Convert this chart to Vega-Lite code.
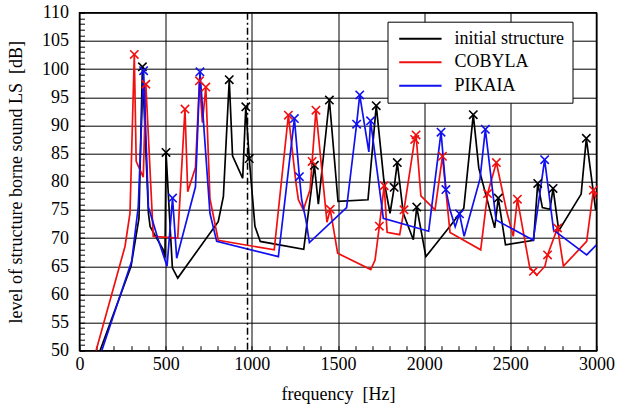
{
  "$schema": "https://vega.github.io/schema/vega-lite/v6.json",
  "width": 517,
  "height": 338,
  "autosize": {"type": "none"},
  "padding": {"left": 79.5, "top": 12.7, "right": 29.5, "bottom": 54.3},
  "background": "white",
  "config": {
    "font": "Liberation Serif",
    "view": {"stroke": "black", "strokeWidth": 1.5},
    "axis": {"labelFont": "Liberation Serif", "titleFont": "Liberation Serif", "labelColor": "black", "titleColor": "black", "titleFontWeight": "normal", "labelFontSize": 18, "titleFontSize": 18}
  },
  "datasets": {
    "lines": [
      {"s":"initial structure","f":119,"L":50},{"s":"initial structure","f":299,"L":65},{"s":"initial structure","f":345,"L":73.5},{"s":"initial structure","f":365,"L":100.4},{"s":"initial structure","f":400,"L":74.4},{"s":"initial structure","f":410,"L":72},{"s":"initial structure","f":486,"L":67.9},{"s":"initial structure","f":496,"L":66.5},{"s":"initial structure","f":502,"L":85.2},{"s":"initial structure","f":539,"L":64.7},{"s":"initial structure","f":570,"L":62.9},{"s":"initial structure","f":805,"L":72.9},{"s":"initial structure","f":835,"L":77.4},{"s":"initial structure","f":869,"L":98.1},{"s":"initial structure","f":888,"L":84.6},{"s":"initial structure","f":947,"L":80.6},{"s":"initial structure","f":965,"L":93.3},{"s":"initial structure","f":985,"L":84.1},{"s":"initial structure","f":1018,"L":72.1},{"s":"initial structure","f":1049,"L":69.4},{"s":"initial structure","f":1301,"L":68},{"s":"initial structure","f":1363,"L":82.9},{"s":"initial structure","f":1386,"L":76},{"s":"initial structure","f":1450,"L":94.5},{"s":"initial structure","f":1500,"L":76.5},{"s":"initial structure","f":1674,"L":76.8},{"s":"initial structure","f":1722,"L":93.5},{"s":"initial structure","f":1766,"L":80.3},{"s":"initial structure","f":1802,"L":74.4},{"s":"initial structure","f":1826,"L":79},{"s":"initial structure","f":1844,"L":83.4},{"s":"initial structure","f":1879,"L":74.4},{"s":"initial structure","f":1937,"L":69.7},{"s":"initial structure","f":1957,"L":75.5},{"s":"initial structure","f":2010,"L":66.7},{"s":"initial structure","f":2150,"L":72.1},{"s":"initial structure","f":2230,"L":75.3},{"s":"initial structure","f":2285,"L":91.9},{"s":"initial structure","f":2317,"L":82.4},{"s":"initial structure","f":2409,"L":71.8},{"s":"initial structure","f":2430,"L":77.1},{"s":"initial structure","f":2472,"L":68.8},{"s":"initial structure","f":2635,"L":69.6},{"s":"initial structure","f":2659,"L":79.7},{"s":"initial structure","f":2686,"L":75.4},{"s":"initial structure","f":2730,"L":75.1},{"s":"initial structure","f":2748,"L":78.8},{"s":"initial structure","f":2781,"L":71.3},{"s":"initial structure","f":2911,"L":77.8},{"s":"initial structure","f":2941,"L":87.7},{"s":"initial structure","f":2995,"L":75},
      {"s":"COBYLA","f":96,"L":50},{"s":"COBYLA","f":264,"L":68.5},{"s":"COBYLA","f":293,"L":74.4},{"s":"COBYLA","f":318,"L":102.6},{"s":"COBYLA","f":329,"L":83.6},{"s":"COBYLA","f":370,"L":80.8},{"s":"COBYLA","f":385,"L":97.3},{"s":"COBYLA","f":428,"L":70.3},{"s":"COBYLA","f":570,"L":70},{"s":"COBYLA","f":612,"L":92.9},{"s":"COBYLA","f":628,"L":78.2},{"s":"COBYLA","f":673,"L":82.5},{"s":"COBYLA","f":696,"L":97.9},{"s":"COBYLA","f":713,"L":90.5},{"s":"COBYLA","f":733,"L":96.8},{"s":"COBYLA","f":757,"L":77},{"s":"COBYLA","f":805,"L":69.6},{"s":"COBYLA","f":1130,"L":67.9},{"s":"COBYLA","f":1212,"L":91.8},{"s":"COBYLA","f":1256,"L":79.8},{"s":"COBYLA","f":1270,"L":76.8},{"s":"COBYLA","f":1299,"L":75},{"s":"COBYLA","f":1338,"L":78.6},{"s":"COBYLA","f":1350,"L":83.6},{"s":"COBYLA","f":1372,"L":92.7},{"s":"COBYLA","f":1436,"L":72.8},{"s":"COBYLA","f":1455,"L":75.1},{"s":"COBYLA","f":1498,"L":67.3},{"s":"COBYLA","f":1690,"L":64.4},{"s":"COBYLA","f":1715,"L":66.1},{"s":"COBYLA","f":1740,"L":72.1},{"s":"COBYLA","f":1768,"L":79.3},{"s":"COBYLA","f":1785,"L":71},{"s":"COBYLA","f":1858,"L":70.6},{"s":"COBYLA","f":1883,"L":75},{"s":"COBYLA","f":1945,"L":87.5},{"s":"COBYLA","f":1953,"L":88.3},{"s":"COBYLA","f":1981,"L":77.5},{"s":"COBYLA","f":2063,"L":75},{"s":"COBYLA","f":2106,"L":84.5},{"s":"COBYLA","f":2150,"L":71},{"s":"COBYLA","f":2328,"L":67.9},{"s":"COBYLA","f":2368,"L":77.9},{"s":"COBYLA","f":2419,"L":83.4},{"s":"COBYLA","f":2479,"L":74.7},{"s":"COBYLA","f":2517,"L":70.3},{"s":"COBYLA","f":2541,"L":76.9},{"s":"COBYLA","f":2614,"L":64.5},{"s":"COBYLA","f":2634,"L":64.1},{"s":"COBYLA","f":2653,"L":63.4},{"s":"COBYLA","f":2701,"L":65},{"s":"COBYLA","f":2716,"L":67},{"s":"COBYLA","f":2774,"L":71.8},{"s":"COBYLA","f":2808,"L":65},{"s":"COBYLA","f":2943,"L":69.4},{"s":"COBYLA","f":2982,"L":78.5},{"s":"COBYLA","f":3000,"L":77},
      {"s":"PIKAIA","f":129,"L":50},{"s":"PIKAIA","f":303,"L":65.9},{"s":"PIKAIA","f":341,"L":75.6},{"s":"PIKAIA","f":372,"L":99.7},{"s":"PIKAIA","f":400,"L":75.5},{"s":"PIKAIA","f":457,"L":69.7},{"s":"PIKAIA","f":508,"L":65},{"s":"PIKAIA","f":540,"L":77.1},{"s":"PIKAIA","f":564,"L":66.4},{"s":"PIKAIA","f":673,"L":79.1},{"s":"PIKAIA","f":699,"L":99.5},{"s":"PIKAIA","f":757,"L":74.4},{"s":"PIKAIA","f":796,"L":69.4},{"s":"PIKAIA","f":1154,"L":66.7},{"s":"PIKAIA","f":1247,"L":91.2},{"s":"PIKAIA","f":1276,"L":80.9},{"s":"PIKAIA","f":1289,"L":76.8},{"s":"PIKAIA","f":1314,"L":73.2},{"s":"PIKAIA","f":1334,"L":69.2},{"s":"PIKAIA","f":1550,"L":75.4},{"s":"PIKAIA","f":1608,"L":90.2},{"s":"PIKAIA","f":1626,"L":95.4},{"s":"PIKAIA","f":1679,"L":85.3},{"s":"PIKAIA","f":1689,"L":90.8},{"s":"PIKAIA","f":1763,"L":73.5},{"s":"PIKAIA","f":2026,"L":71.2},{"s":"PIKAIA","f":2098,"L":88.8},{"s":"PIKAIA","f":2126,"L":78.6},{"s":"PIKAIA","f":2150,"L":75},{"s":"PIKAIA","f":2180,"L":72},{"s":"PIKAIA","f":2205,"L":74.3},{"s":"PIKAIA","f":2232,"L":70.3},{"s":"PIKAIA","f":2324,"L":80.5},{"s":"PIKAIA","f":2355,"L":89.3},{"s":"PIKAIA","f":2417,"L":73.2},{"s":"PIKAIA","f":2633,"L":69.6},{"s":"PIKAIA","f":2699,"L":83.9},{"s":"PIKAIA","f":2751,"L":71.4},{"s":"PIKAIA","f":2943,"L":67},{"s":"PIKAIA","f":3000,"L":68.8}
    ],
    "markers": [
      {"s":"initial structure","f":365,"L":100.4},{"s":"initial structure","f":502,"L":85.2},{"s":"initial structure","f":869,"L":98.1},{"s":"initial structure","f":965,"L":93.3},{"s":"initial structure","f":985,"L":84.1},{"s":"initial structure","f":1363,"L":82.9},{"s":"initial structure","f":1450,"L":94.5},{"s":"initial structure","f":1722,"L":93.5},{"s":"initial structure","f":1826,"L":79},{"s":"initial structure","f":1844,"L":83.4},{"s":"initial structure","f":1957,"L":75.5},{"s":"initial structure","f":2285,"L":91.9},{"s":"initial structure","f":2430,"L":77.1},{"s":"initial structure","f":2659,"L":79.7},{"s":"initial structure","f":2748,"L":78.8},{"s":"initial structure","f":2941,"L":87.7},
      {"s":"COBYLA","f":318,"L":102.6},{"s":"COBYLA","f":385,"L":97.3},{"s":"COBYLA","f":612,"L":92.9},{"s":"COBYLA","f":696,"L":97.9},{"s":"COBYLA","f":733,"L":96.8},{"s":"COBYLA","f":1212,"L":91.8},{"s":"COBYLA","f":1350,"L":83.6},{"s":"COBYLA","f":1372,"L":92.7},{"s":"COBYLA","f":1455,"L":75.1},{"s":"COBYLA","f":1740,"L":72.1},{"s":"COBYLA","f":1768,"L":79.3},{"s":"COBYLA","f":1883,"L":75},{"s":"COBYLA","f":1945,"L":87.5},{"s":"COBYLA","f":1953,"L":88.3},{"s":"COBYLA","f":2106,"L":84.5},{"s":"COBYLA","f":2368,"L":77.9},{"s":"COBYLA","f":2419,"L":83.4},{"s":"COBYLA","f":2541,"L":76.9},{"s":"COBYLA","f":2634,"L":64.1},{"s":"COBYLA","f":2716,"L":67},{"s":"COBYLA","f":2774,"L":71.8},{"s":"COBYLA","f":2982,"L":78.5},
      {"s":"PIKAIA","f":372,"L":99.7},{"s":"PIKAIA","f":540,"L":77.1},{"s":"PIKAIA","f":699,"L":99.5},{"s":"PIKAIA","f":1247,"L":91.2},{"s":"PIKAIA","f":1276,"L":80.9},{"s":"PIKAIA","f":1608,"L":90.2},{"s":"PIKAIA","f":1626,"L":95.4},{"s":"PIKAIA","f":1689,"L":90.8},{"s":"PIKAIA","f":2098,"L":88.8},{"s":"PIKAIA","f":2126,"L":78.6},{"s":"PIKAIA","f":2205,"L":74.3},{"s":"PIKAIA","f":2355,"L":89.3},{"s":"PIKAIA","f":2699,"L":83.9}
    ],
    "cut": [{"f": 975}]
  },
  "layer": [
    {
      "data": {"name": "lines"},
      "mark": {"type": "line", "strokeWidth": 1.7, "clip": true},
      "encoding": {
        "x": {"field": "f", "type": "quantitative", "scale": {"domain": [0, 3000], "nice": false},
          "axis": {"orient": "bottom", "values": [0,500,1000,1500,2000,2500,3000], "format": "d", "grid": true, "gridColor": "black", "gridOpacity": 1, "gridWidth": 1, "ticks": false, "domain": false, "labelPadding": 5, "labelFlush": false, "labelFont": "Liberation Serif", "labelFontSize": 18, "titleFont": "Liberation Serif", "titleFontSize": 18, "title": "frequency\u00a0 [Hz]", "titlePadding": 12, "zindex": 0}},
        "y": {"field": "L", "type": "quantitative", "scale": {"domain": [50, 110], "nice": false},
          "axis": {"orient": "left", "values": [50,55,60,65,70,75,80,85,90,95,100,105,110], "format": "d", "grid": true, "gridColor": "black", "gridOpacity": 1, "gridWidth": 1, "ticks": false, "domain": false, "labelPadding": 11, "labelFlush": false, "labelFont": "Liberation Serif", "labelFontSize": 18, "titleFont": "Liberation Serif", "titleFontSize": 18, "title": "level of structure borne sound LS\u00a0 [dB]", "titlePadding": 16, "zindex": 0}},
        "color": {"field": "s", "type": "nominal",
          "scale": {"domain": ["initial structure", "COBYLA", "PIKAIA"], "range": ["#000000", "#f01010", "#1010f0"]},
          "legend": {"orient": "none", "legendX": 308, "legendY": 9, "title": null, "strokeColor": "black", "fillColor": "white", "padding": 8, "symbolType": "M-1,0H7", "symbolSize": 112, "symbolStrokeWidth": 2, "symbolFillColor": "transparent", "labelOffset": 41, "labelFontSize": 18, "labelFont": "Liberation Serif", "labelColor": "black", "rowPadding": 5.5, "labelLimit": 400, "labelExpr": "datum.value === 'initial structure' ? 'initial structure\u2007\u2007\u2007' : datum.label"}}
      }
    },
    {
      "data": {"name": "markers"},
      "mark": {"type": "point", "shape": "M-1,-1L1,1M-1,1L1,-1", "size": 70, "strokeWidth": 1.6, "filled": false, "opacity": 1},
      "encoding": {
        "x": {"field": "f", "type": "quantitative",
          "axis": {"orient": "bottom", "offset": -5, "values": [0,100,200,300,400,500,600,700,800,900,1000,1100,1200,1300,1400,1500,1600,1700,1800,1900,2000,2100,2200,2300,2400,2500,2600,2700,2800,2900,3000], "labels": false, "grid": false, "domain": false, "ticks": true, "tickSize": 5, "tickColor": "black", "tickWidth": 1, "title": null}},
        "y": {"field": "L", "type": "quantitative",
          "axis": {"orient": "left", "offset": -5, "values": [50,51,52,53,54,55,56,57,58,59,60,61,62,63,64,65,66,67,68,69,70,71,72,73,74,75,76,77,78,79,80,81,82,83,84,85,86,87,88,89,90,91,92,93,94,95,96,97,98,99,100,101,102,103,104,105,106,107,108,109,110], "labels": false, "grid": false, "domain": false, "ticks": true, "tickSize": 5, "tickColor": "black", "tickWidth": 1, "title": null}},
        "color": {"field": "s", "type": "nominal", "legend": null}
      }
    },
    {
      "data": {"name": "cut"},
      "mark": {"type": "rule", "color": "black", "strokeWidth": 1.5, "strokeDash": [7, 3, 2, 3]},
      "encoding": {
        "x": {"field": "f", "type": "quantitative", "axis": null}
      }
    }
  ],
  "resolve": {"axis": {"x": "independent", "y": "independent"}}
}
